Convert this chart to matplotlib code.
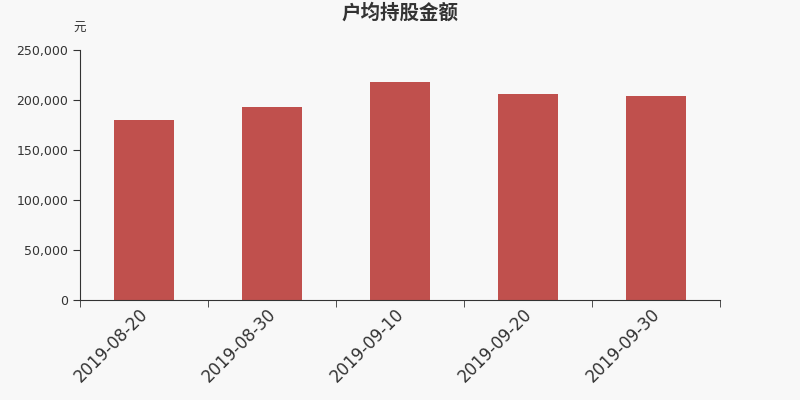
import matplotlib
matplotlib.use("Agg")
import matplotlib.pyplot as plt
import numpy as np
from matplotlib.ticker import FuncFormatter, FixedLocator
import matplotlib.transforms as mtransforms

plt.rcParams['font.family'] = ['Noto Sans CJK SC', 'DejaVu Sans']

dates = ["2019-08-20", "2019-08-30", "2019-09-10", "2019-09-20", "2019-09-30"]
values = [179800, 193000, 217700, 206000, 203800]
yticks = [0, 50000, 100000, 150000, 200000, 250000]

bg = "#f8f8f8"
fig = plt.figure(figsize=(8, 4), dpi=100, facecolor=bg)
ax = fig.add_axes([0.1, 0.25, 0.8, 0.625], facecolor=bg)

x = np.arange(len(dates))
ax.bar(x, values, width=0.47, color="#c0504d")
ax.set_xlim(-0.5, len(dates) - 0.5)
ax.set_ylim(0, 250000)
ax.set_yticks(yticks)
ax.yaxis.set_major_formatter(FuncFormatter(lambda v, p: f"{int(v):,}"))

ax.set_xticks(x)
ax.set_xticklabels(dates, rotation=45, ha='right', rotation_mode='anchor',
                   fontsize=12, color="#333333", family='DejaVu Sans')
ax.tick_params(axis='x', which='major', length=0, pad=4)
offset = mtransforms.ScaledTranslation(-5 / 100, 0, fig.dpi_scale_trans)
for lab in ax.get_xticklabels():
    lab.set_transform(lab.get_transform() + offset)
ax.xaxis.set_minor_locator(FixedLocator(np.arange(-0.5, len(dates), 1.0)))
ax.tick_params(axis='x', which='minor', length=5, color="#333333")
ax.tick_params(axis='y', length=5, color="#333333", labelsize=9, labelcolor="#333333")
for lab in ax.get_yticklabels():
    lab.set_family('DejaVu Sans')

for s in ['top', 'right']:
    ax.spines[s].set_visible(False)
for s in ['left', 'bottom']:
    ax.spines[s].set_color("#333333")

fig.text(0.5, 0.967, "户均持股金额", ha='center', va='center', fontsize=14,
         fontweight='bold', color="#333333")
fig.text(0.1, 0.928, "元", ha='center', va='center', fontsize=9, color="#333333")

fig.savefig("out.png", dpi=100, facecolor=bg)
